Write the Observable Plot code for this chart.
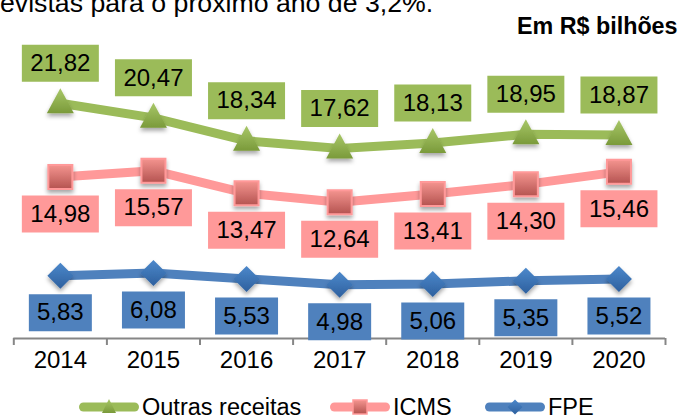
<!DOCTYPE html>
<html>
<head>
<meta charset="utf-8">
<script src="https://cdn.jsdelivr.net/npm/d3@7"></script>
<script src="https://cdn.jsdelivr.net/npm/@observablehq/plot@0.6"></script>
<style>
html, body { margin: 0; padding: 0; background: #fff; }
body { width: 679px; height: 417px; position: relative; overflow: hidden; font-family: "Liberation Sans", Arial, sans-serif; }
#chart { position: absolute; left: 0; top: 0; }
#chart svg { display: block; }
.intro { position: absolute; left: 0; top: -10.5px; font-size: 26.7px; line-height: 1; white-space: nowrap; color: #000; }
.unit { position: absolute; left: 517px; top: 15.2px; font-size: 23.3px; font-weight: bold; line-height: 1; white-space: nowrap; color: #000; }
.lg-svg { position: absolute; top: 397px; }
.lg-txt { position: absolute; top: 398.3px; font-size: 23.5px; line-height: 18px; height: 18px; white-space: nowrap; color: #000; }
</style>
</head>
<body>
<div class="intro">evistas para o próximo ano de 3,2%.</div>
<div class="unit">Em R$ bilhões</div>
<div id="chart"></div>
<script>
// ---- data ----
const years = [2014, 2015, 2016, 2017, 2018, 2019, 2020];
const outras = [21.82, 20.47, 18.34, 17.62, 18.13, 18.95, 18.87];
const icms = [14.98, 15.57, 13.47, 12.64, 13.41, 14.30, 15.46];
const fpe = [5.83, 6.08, 5.53, 4.98, 5.06, 5.35, 5.52];
const seriesNames = ["Outras receitas", "ICMS", "FPE"];
const unitLabel = "Em R$ bilhões";

// ---- styling ----
const green = "#9BBB59", pink = "#FF9999", blue = "#4F81BD";
const fmt = d => d.toFixed(2).replace(".", ",");
const X = (d, i) => years[i];
const Y = d => d;

// custom symbols
const triSym = {draw(c) { c.moveTo(0, -15); c.lineTo(13.5, 10); c.lineTo(-13.5, 10); c.closePath(); }};
const sqSym = {draw(c) { c.rect(-12, -12, 24, 24); }};
const diaSym = {draw(c) { c.moveTo(0, -13); c.lineTo(13, 0); c.lineTo(0, 13); c.lineTo(-13, 0); c.closePath(); }};
const boxWide = {draw(c) { c.rect(-38.5, -18.5, 77, 37); }};
const boxNarrow = {draw(c) { c.rect(-31.5, -18.5, 63, 37); }};

const boundaries = years.map(y => y - 0.5).concat([years[years.length - 1] + 0.5]);

const font = "Liberation Sans, Arial, sans-serif";
const labelMarks = (data, fill, symbol, dy) => [
  Plot.dot(data, {x: X, y: Y, symbol, fill, stroke: "none", dy}),
  Plot.text(data, {x: X, y: Y, text: fmt, dy, fontSize: 24, fill: "#000", fontFamily: font})
];

const chart = Plot.plot({
  width: 679,
  height: 417,
  marginLeft: 13.3,
  marginRight: 14,
  marginTop: 14.6,
  marginBottom: 79,
  style: {background: "transparent", fontFamily: font, color: "#868686", overflow: "visible"},
  x: {type: "linear", domain: [boundaries[0], boundaries[boundaries.length - 1]], ticks: boundaries, tickSize: 7, tickFormat: () => "", label: null},
  y: {domain: [0, 30], axis: null},
  marks: [
    Plot.ruleY([0], {stroke: "#868686", strokeWidth: 2}),
    Plot.line(outras, {x: X, y: Y, stroke: green, strokeWidth: 9, strokeLinejoin: "round", strokeLinecap: "round"}),
    Plot.line(icms, {x: X, y: Y, stroke: pink, strokeWidth: 9, strokeLinejoin: "round", strokeLinecap: "round"}),
    Plot.line(fpe, {x: X, y: Y, stroke: blue, strokeWidth: 9, strokeLinejoin: "round", strokeLinecap: "round"}),
    Plot.dot(outras, {x: X, y: Y, symbol: triSym, fill: "url(#gTri)", stroke: "none"}),
    Plot.dot(icms, {x: X, y: Y, symbol: sqSym, fill: "url(#gSq)", stroke: pink, strokeWidth: 2}),
    Plot.dot(fpe, {x: X, y: Y, symbol: diaSym, fill: "url(#gDia)", stroke: "none"}),
    ...labelMarks(outras, green, boxWide, -40),
    ...labelMarks(icms, pink, boxWide, 37),
    ...labelMarks(fpe, blue, boxNarrow, 37),
    Plot.text(years, {x: d => d, text: d => String(d), frameAnchor: "bottom", dy: 29, fontSize: 24, fill: "#000", fontFamily: font})
  ]
});
document.getElementById("chart").appendChild(chart);

// gradients and shadow
const svg = d3.select(chart);
const defs = svg.insert("defs", ":first-child");
function grad(id, top, bottom) {
  const g = defs.append("linearGradient").attr("id", id).attr("x1", 0).attr("y1", 0).attr("x2", 0).attr("y2", 1);
  g.append("stop").attr("offset", "0%").attr("stop-color", top);
  g.append("stop").attr("offset", "100%").attr("stop-color", bottom);
}
grad("gTri", "#A8C768", "#7A9A3A");
grad("gSq", "#F4948F", "#B45350");
grad("gDia", "#4C88CB", "#2E609E");
const f = defs.append("filter").attr("id", "shadow").attr("x", "-50%").attr("y", "-50%").attr("width", "200%").attr("height", "200%");
f.append("feDropShadow").attr("dx", 0).attr("dy", 3).attr("stdDeviation", 2).attr("flood-color", "#000").attr("flood-opacity", 0.35);
svg.selectAll('g[fill^="url"]').attr("filter", "url(#shadow)");
svg.selectAll('[aria-label^="x-axis"]').attr("stroke-width", 2);

// legend
const legendItems = [
  {name: seriesNames[0], color: green, left: 79, marker: "tri"},
  {name: seriesNames[1], color: pink, left: 330, marker: "sq"},
  {name: seriesNames[2], color: blue, left: 485, marker: "dia"}
];
const body = d3.select("body");
legendItems.forEach(it => {
  const s = body.append("svg").attr("class", "lg-svg").attr("width", 60).attr("height", 20).style("left", it.left + "px");
  s.append("line").attr("x1", 4.5).attr("x2", 55.5).attr("y1", 10).attr("y2", 10)
    .attr("stroke", it.color).attr("stroke-width", 9).attr("stroke-linecap", "round");
  if (it.marker === "tri") s.append("path").attr("d", "M30,2L37,16L23,16Z").attr("fill", "url(#gTri)");
  if (it.marker === "sq") s.append("rect").attr("x", 23).attr("y", 3).attr("width", 14).attr("height", 14).attr("fill", "url(#gSq)").attr("stroke", pink).attr("stroke-width", 1.5);
  if (it.marker === "dia") s.append("path").attr("d", "M30,2.5L37.5,10L30,17.5L22.5,10Z").attr("fill", "url(#gDia)");
  body.append("div").attr("class", "lg-txt").style("left", (it.left + 63) + "px").text(it.name);
});
</script>
</body>
</html>
